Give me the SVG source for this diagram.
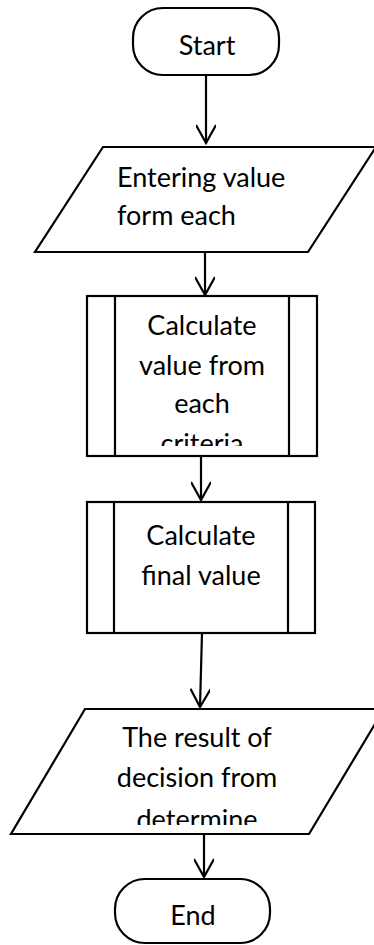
<svg xmlns="http://www.w3.org/2000/svg" width="374" height="945" viewBox="0 0 374 945">
  <style>
    .shape { fill: #ffffff; stroke: #000000; stroke-width: 2.2; }
    .edge { fill: none; stroke: #000000; stroke-width: 2.2; }
    .label { font-family: Lato, "Liberation Sans", sans-serif; font-size: 27px; fill: #000000; text-anchor: middle; }
    .left { text-anchor: start; }
  </style>
  <defs>
    <marker id="open-arrow" viewBox="0 0 24 20" refX="20" refY="10" markerWidth="24" markerHeight="20" markerUnits="userSpaceOnUse" orient="auto">
      <polyline points="2,0 20,10 2,20" fill="none" stroke="#000000" stroke-width="2.2"/>
    </marker>
    <clipPath id="clip-calc1"><rect x="116" y="297" width="172" height="149"/></clipPath>
    <clipPath id="clip-result"><rect x="40" y="710" width="330" height="115"/></clipPath>
  </defs>

  <rect width="374" height="945" fill="#ffffff"/>

  <g id="connectors">
    <path class="edge" d="M206,75 L206,143" marker-end="url(#open-arrow)"/>
    <path class="edge" d="M205,252 L205,295" marker-end="url(#open-arrow)"/>
    <path class="edge" d="M201,456 L201,500" marker-end="url(#open-arrow)"/>
    <path class="edge" d="M202,633 L200,707" marker-end="url(#open-arrow)"/>
    <path class="edge" d="M204,834 L204,877" marker-end="url(#open-arrow)"/>
  </g>

  <g id="start">
    <rect class="shape" x="133" y="8" width="146" height="67" rx="30" ry="30"/>
    <text class="label" x="207" y="55">Start</text>
  </g>

  <g id="input-values">
    <polygon class="shape" points="103,147 376,147 308,252 35,252"/>
    <text class="label left" x="117" y="187">Entering value</text>
    <text class="label left" x="117" y="225">form each</text>
  </g>

  <g id="calc-criteria">
    <rect class="shape" x="87" y="296" width="230" height="160"/>
    <line class="edge" x1="115" y1="296" x2="115" y2="456"/>
    <line class="edge" x1="289" y1="296" x2="289" y2="456"/>
    <g clip-path="url(#clip-calc1)">
      <text class="label" x="202" y="335">Calculate</text>
      <text class="label" x="202" y="375">value from</text>
      <text class="label" x="202" y="413">each</text>
      <text class="label" x="202" y="453">criteria</text>
    </g>
  </g>

  <g id="calc-final">
    <rect class="shape" x="87" y="502" width="228" height="131"/>
    <line class="edge" x1="114" y1="502" x2="114" y2="633"/>
    <line class="edge" x1="288" y1="502" x2="288" y2="633"/>
    <text class="label" x="201" y="545">Calculate</text>
    <text class="label" x="201" y="585">final value</text>
  </g>

  <g id="output-result">
    <polygon class="shape" points="85,709 384,709 309,834 11,834"/>
    <g clip-path="url(#clip-result)">
      <text class="label" x="197" y="747">The result of</text>
      <text class="label" x="197" y="787">decision from</text>
      <text class="label" x="197" y="829">determine</text>
    </g>
  </g>

  <g id="end">
    <rect class="shape" x="115" y="879" width="155" height="64" rx="30" ry="30"/>
    <text class="label" x="193" y="925">End</text>
  </g>
</svg>
